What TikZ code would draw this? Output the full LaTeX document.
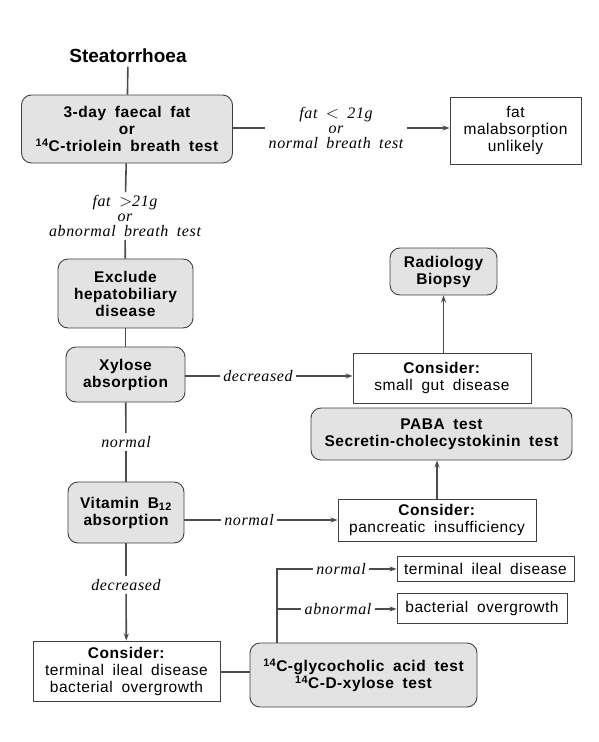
\documentclass[tikz,border=0pt]{standalone}
\usepackage{fontspec}
\setmainfont{Liberation Serif}[WordSpace=1.8, LetterSpace=4]
\setsansfont{Liberation Sans}[WordSpace=1.8, LetterSpace=3.5]
\usetikzlibrary{arrows.meta}

\begin{document}
\begin{tikzpicture}[x=1pt,y=-1pt,
  rbox/.style={draw=black!75, line width=0.9pt, rounded corners=10pt, fill=gray!22,
    font=\sffamily\bfseries\fontsize{15.5}{17}\selectfont, align=center, inner sep=0pt},
  sbox/.style={draw=black!75, line width=0.9pt, fill=white,
    font=\sffamily\fontsize{15.5}{17}\selectfont, align=center, inner sep=0pt},
  lab/.style={font=\itshape\fontsize{16}{15}\selectfont, align=center, inner sep=3pt},
  link/.style={draw=black!70, line width=1.6pt},
  arr/.style={link, -{Stealth[length=7pt,width=5pt]}}]

\useasboundingbox[fill=white] (0,0) rectangle (599,742);

% title
\node[font=\sffamily\bfseries\fontsize{19}{21}\selectfont\addfontfeatures{LetterSpace=0}] (st) at (128,56) {Steatorrhoea};

% rounded test boxes
\node[rbox, minimum width=211pt, minimum height=68pt] (fat) at (127,129)
  {3-day faecal fat\\or\\\textsuperscript{14}C-triolein breath test};
\node[rbox, minimum width=135pt, minimum height=69pt] (hep) at (125.5,293.5)
  {Exclude\\hepatobiliary\\disease};
\node[rbox, minimum width=119pt, minimum height=55pt] (xyl) at (125.5,374.5)
  {Xylose\\absorption};
\node[rbox, minimum width=116pt, minimum height=61pt] (b12) at (126,512.5)
  {Vitamin B\textsubscript{12}\\absorption};
\node[rbox, minimum width=107pt, minimum height=47pt] (rad) at (443.5,271.5)
  {Radiology\\Biopsy};
\node[rbox, minimum width=261pt, minimum height=52pt] (paba) at (441.5,434)
  {PABA test\\Secretin-cholecystokinin test};
\node[rbox, minimum width=227pt, minimum height=64pt] (gly) at (363.5,675)
  {\textsuperscript{14}C-glycocholic acid test\\\textsuperscript{14}C-D-xylose test};

% plain outcome boxes
\node[sbox, minimum width=131pt, minimum height=67pt] (unl) at (515.5,130.5)
  {fat\\malabsorption\\unlikely};
\node[sbox, minimum width=178pt, minimum height=50pt] (sgd) at (442,378)
  {\textbf{Consider:}\\small gut disease};
\node[sbox, minimum width=198pt, minimum height=42pt] (pan) at (437,520)
  {\textbf{Consider:}\\pancreatic insufficiency};
\node[sbox, minimum width=187pt, minimum height=60pt] (til) at (126.5,671)
  {\textbf{Consider:}\\terminal ileal disease\\bacterial overgrowth};
\node[sbox, minimum width=177pt, minimum height=25pt] (ter) at (485.5,568.5)
  {terminal ileal disease};
\node[sbox, minimum width=170pt, minimum height=30pt] (bac) at (482,608)
  {bacterial overgrowth};

% edge labels
\node[lab] (l1) at (336,128) {fat $<$ 21g\\or\\normal breath test};
\node[lab] (l2) at (125,216) {fat $>$21g\\or\\abnormal breath test};
\node[lab] (l3) at (258,376) {decreased};
\node[lab] (l4) at (126,442) {normal};
\node[lab] (l5) at (249,520) {normal};
\node[lab] (l6) at (126,585) {decreased};
\node[lab] (l7) at (341,569) {normal};
\node[lab] (l8) at (338,609) {abnormal};

% branch points above the breath-test box
\coordinate (j1) at (277,569);
\coordinate (j2) at (277,609);

% connectors
\draw[link] (st) -- (fat);
\draw[link] (fat.east |- l1) -- (l1.west);
\draw[arr] (l1.east) -- (unl.west |- l1);
\draw[link] (fat) -- (l2);
\draw[link] (l2) -- (hep);
\draw[link] (hep) -- (xyl);
\draw[link] (xyl.east |- l3) -- (l3.west);
\draw[arr] (l3.east) -- (sgd.west |- l3);
\draw[arr] (sgd.north -| rad) -- (rad.south);
\draw[link] (xyl) -- (l4);
\draw[link] (l4) -- (b12);
\draw[link] (b12.east |- l5) -- (l5.west);
\draw[arr] (l5.east) -- (pan.west |- l5);
\draw[arr] (pan.north) -- (pan.north |- paba.south);
\draw[link] (b12) -- (l6);
\draw[arr] (l6) -- (til);
\draw[link] (til.east |- 0,672) -- (gly.west |- 0,672);
\draw[link] (gly.north -| j1) -- (j1) -- (l7.west);
\draw[link] (j2) -- (l8.west);
\draw[arr] (l7.east) -- (ter.west |- l7);
\draw[arr] (l8.east) -- (bac.west |- l8);
\end{tikzpicture}
\end{document}
